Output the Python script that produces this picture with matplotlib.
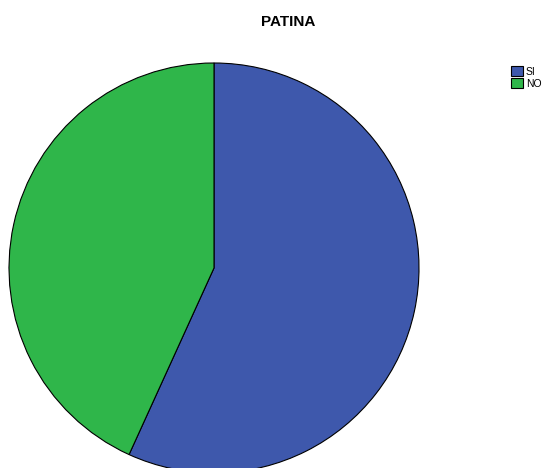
import matplotlib
matplotlib.use("Agg")
import matplotlib.pyplot as plt

labels = ["SI", "NO"]
values = [56.8, 43.2]
colors = ["#3e58ac", "#2fb64a"]

plt.rcParams['font.family'] = ['Liberation Sans', 'DejaVu Sans']

W, H = 544, 468
fig = plt.figure(figsize=(W / 100, H / 100), dpi=100)

# pie centre ~ (214, 268) px, radius ~205 px
cx, cy, r = 214, 268, 205
ax = fig.add_axes([(cx - r) / W, (H - cy - r) / H, 2 * r / W, 2 * r / H])
wedges, _ = ax.pie(values, colors=colors, startangle=90, counterclock=False,
                   radius=1.0, wedgeprops=dict(edgecolor="black", linewidth=0.8))
ax.set_xlim(-1.0, 1.0)
ax.set_ylim(-1.0, 1.0)
ax.set_aspect("equal")
ax.axis("off")

fig.text(288 / W, 1 - 22 / H, "PATINA", ha="center", va="center",
         fontsize=11, fontweight="bold")

fig.legend(wedges, labels, loc="upper left", bbox_to_anchor=(506 / W, 1 - 61 / H),
           frameon=False, fontsize=7.5, handlelength=1.1, handleheight=1.1,
           handletextpad=0.3, labelspacing=0.15, borderpad=0.0)

fig.savefig("out.png", dpi=100)
